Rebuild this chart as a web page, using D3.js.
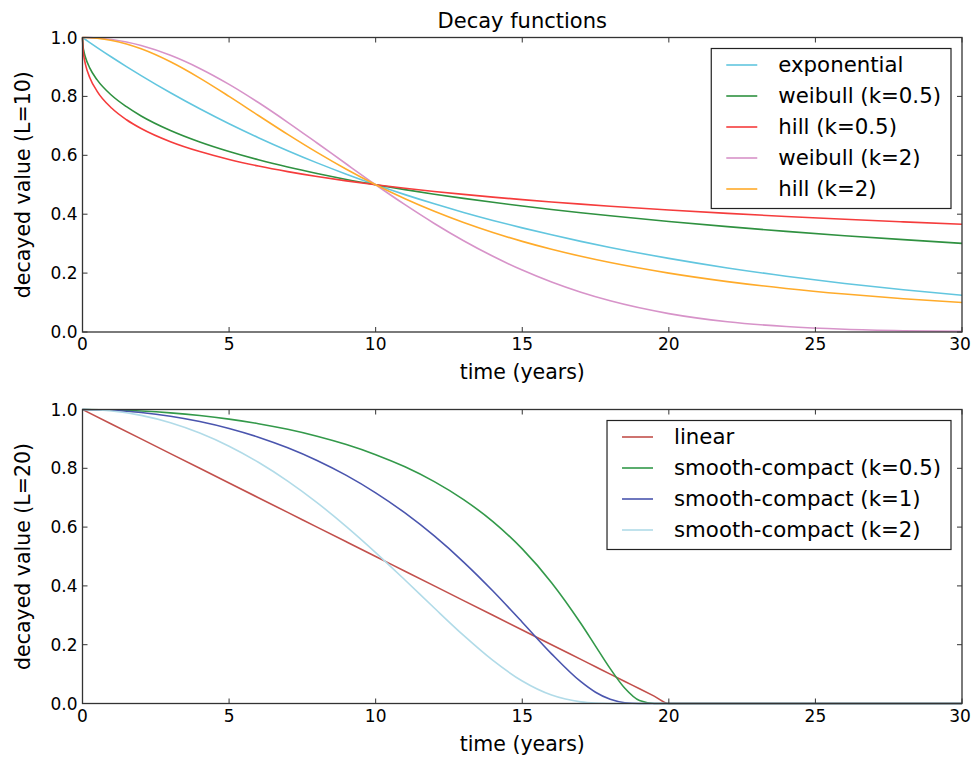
<!DOCTYPE html>
<html lang="en">
<head>
  <meta charset="UTF-8">
  <title>Decay functions</title>
  <script src="https://d3js.org/d3.v7.min.js"></script>
  <style>
    body { margin: 0; background: #fff; }
    svg { font-family: "DejaVu Sans", sans-serif; }
    .series { fill: none; stroke-width: 1.6; }
    .frame { fill: none; stroke: #333; stroke-width: 1.3; }
    .tick-mark { stroke: #333; stroke-width: 1; }
    .tick-label { font-size: 17px; fill: #000; }
    .axis-label { font-size: 20.5px; fill: #000; }
    .legend-text { font-size: 21.3px; fill: #000; }
  </style>
</head>
<body>
  <svg width="971" height="757"></svg>

  <script>
    // top panel: L = 10
    const topTimes = [0, 0.02, 0.05, 0.1, 0.25, 0.5, 1, 1.5, 2, 3, 4, 5, 6, 7, 8, 9, 10, 11, 12, 13, 14, 15, 16, 17, 18, 20, 22, 24, 26, 28, 30];
    const exponential = [1, 0.9986, 0.9965, 0.9931, 0.9828, 0.9659, 0.9330, 0.9013, 0.8706, 0.8123, 0.7579, 0.7071, 0.6598, 0.6156, 0.5743, 0.5359, 0.5, 0.4665, 0.4353, 0.4061, 0.3789, 0.3536, 0.3299, 0.3078, 0.2872, 0.25, 0.2176, 0.1895, 0.1649, 0.1436, 0.125];
    const weibullHalf = [1, 0.9695, 0.952, 0.933, 0.896, 0.856, 0.803, 0.765, 0.7334, 0.684, 0.645, 0.6126, 0.5846, 0.560, 0.538, 0.518, 0.5, 0.4834, 0.468, 0.4537, 0.4404, 0.4279, 0.4162, 0.4051, 0.3946, 0.3753, 0.3577, 0.3417, 0.327, 0.3136, 0.301];
    const hillHalf = [1, 0.957, 0.934, 0.909, 0.8635, 0.8173, 0.7597, 0.7208, 0.691, 0.6461, 0.6126, 0.5858, 0.5635, 0.5445, 0.5279, 0.5132, 0.5, 0.4881, 0.4772, 0.4672, 0.458, 0.4495, 0.4415, 0.4341, 0.4271, 0.4142, 0.4027, 0.3923, 0.3828, 0.3741, 0.366];
    const weibullTwo = [1, 1, 1, 0.9999, 0.9996, 0.9983, 0.9931, 0.9845, 0.9727, 0.9395, 0.895, 0.8409, 0.7792, 0.7121, 0.6417, 0.5704, 0.5, 0.4323, 0.3686, 0.3099, 0.2571, 0.2102, 0.1696, 0.1349, 0.1058, 0.0625, 0.0349, 0.0185, 0.0092, 0.0044, 0.002];
    const hillTwo = [1, 1, 1, 0.9999, 0.9994, 0.9975, 0.9901, 0.978, 0.9615, 0.9174, 0.8621, 0.8, 0.7353, 0.6711, 0.6098, 0.5525, 0.5, 0.4525, 0.4098, 0.3717, 0.3378, 0.3077, 0.2809, 0.2571, 0.2358, 0.2, 0.1712, 0.1479, 0.1289, 0.1131, 0.1];

    // bottom panel: L = 20
    const bottomTimes = [0, 1, 2, 3, 4, 5, 6, 7, 8, 9, 10, 11, 12, 13, 14, 15, 16, 17, 17.5, 18, 18.5, 19, 19.5, 20, 25, 30];
    const linear = [1, 0.95, 0.9, 0.85, 0.8, 0.75, 0.7, 0.65, 0.6, 0.55, 0.5, 0.45, 0.4, 0.35, 0.3, 0.25, 0.2, 0.15, 0.125, 0.1, 0.075, 0.05, 0.025, 0, 0, 0];
    const compactHalf = [1, 0.9988, 0.995, 0.9886, 0.9794, 0.9672, 0.9518, 0.9326, 0.9092, 0.8808, 0.8465, 0.8051, 0.7548, 0.6936, 0.6186, 0.5258, 0.4111, 0.2721, 0.1953, 0.1186, 0.0517, 0.0098, 0.0001, 0, 0, 0];
    const compactOne = [1, 0.9975, 0.99, 0.9773, 0.9592, 0.9355, 0.9058, 0.8697, 0.8266, 0.7758, 0.7165, 0.6481, 0.5698, 0.4811, 0.3826, 0.2765, 0.169, 0.074, 0.0381, 0.0141, 0.0027, 0.0001, 0, 0, 0, 0];
    const compactTwo = [1, 0.995, 0.98, 0.955, 0.92, 0.8752, 0.8205, 0.7564, 0.6832, 0.6018, 0.5134, 0.4201, 0.3247, 0.2315, 0.1464, 0.0764, 0.0286, 0.0055, 0.0015, 0.0002, 0, 0, 0, 0, 0, 0];

    const xTicks = [0, 5, 10, 15, 20, 25, 30];
    const yTicks = [0, 0.2, 0.4, 0.6, 0.8, 1.0];

    const svg = d3.select('svg');
    const left = 82.5, right = 962;

    // title
    svg.append('text')
      .attr('x', (left + right) / 2)
      .attr('y', 28)
      .attr('text-anchor', 'middle')
      .style('font-size', '21px')
      .text('Decay functions');

    function drawPanel(top, bottom, times, series, yLabel) {
      const x = d3.scaleLinear().domain([0, 30]).range([left, right]);
      const y = d3.scaleLinear().domain([0, 1]).range([bottom, top]);
      const g = svg.append('g');

      const line = d3.line()
        .x((d, i) => x(times[i]))
        .y(d => y(d))
        .curve(d3.curveMonotoneX);

      series.forEach(s => {
        g.append('path')
          .attr('class', 'series')
          .attr('stroke', s.color)
          .attr('d', line(s.values));
      });

      // ticks point inward on all four sides
      xTicks.forEach(t => {
        g.append('line').attr('class', 'tick-mark')
          .attr('x1', x(t)).attr('x2', x(t)).attr('y1', bottom).attr('y2', bottom - 5);
        g.append('line').attr('class', 'tick-mark')
          .attr('x1', x(t)).attr('x2', x(t)).attr('y1', top).attr('y2', top + 5);
        g.append('text').attr('class', 'tick-label')
          .attr('x', x(t) - (t === 30 ? 2 : 0)).attr('y', bottom + 18)
          .attr('text-anchor', 'middle')
          .text(t);
      });
      yTicks.forEach(t => {
        g.append('line').attr('class', 'tick-mark')
          .attr('x1', left).attr('x2', left + 5).attr('y1', y(t)).attr('y2', y(t));
        g.append('line').attr('class', 'tick-mark')
          .attr('x1', right).attr('x2', right - 5).attr('y1', y(t)).attr('y2', y(t));
        g.append('text').attr('class', 'tick-label')
          .attr('x', left - 5).attr('y', y(t) + 6)
          .attr('text-anchor', 'end')
          .text(d3.format('.1f')(t));
      });

      g.append('rect').attr('class', 'frame')
        .attr('x', left).attr('y', top)
        .attr('width', right - left).attr('height', bottom - top);

      g.append('text').attr('class', 'axis-label')
        .attr('x', (left + right) / 2).attr('y', bottom + 47)
        .attr('text-anchor', 'middle')
        .text('time (years)');

      g.append('text').attr('class', 'axis-label')
        .attr('transform', `translate(30,${(top + bottom) / 2}) rotate(-90)`)
        .attr('text-anchor', 'middle')
        .text(yLabel);

      // legend, upper right
      const lg = g.append('g');
      const box = lg.append('rect')
        .attr('fill', '#fff').attr('stroke', '#222').attr('stroke-width', 1.2);
      let maxW = 0;
      series.forEach((s, i) => {
        const cy = 16.5 + i * 31;
        lg.append('line')
          .attr('x1', 15).attr('x2', 46).attr('y1', cy).attr('y2', cy)
          .attr('stroke', s.color).attr('stroke-width', 1.6);
        const t = lg.append('text').attr('class', 'legend-text')
          .attr('x', 67).attr('y', cy + 7)
          .text(s.name);
        maxW = Math.max(maxW, t.node().getComputedTextLength());
      });
      const w = 67 + maxW + 10;
      const h = 33 + (series.length - 1) * 31 + 3;
      box.attr('width', w).attr('height', h);
      lg.attr('transform', `translate(${right - 11 - w},${top + 11})`);
    }

    drawPanel(37.5, 332, topTimes, [
      { name: 'exponential', color: '#62c6df', values: exponential },
      { name: 'weibull (k=0.5)', color: '#2f9140', values: weibullHalf },
      { name: 'hill (k=0.5)', color: '#f53c3c', values: hillHalf },
      { name: 'weibull (k=2)', color: '#d793c9', values: weibullTwo },
      { name: 'hill (k=2)', color: '#ffab2a', values: hillTwo }
    ], 'decayed value (L=10)');

    drawPanel(409.5, 703.5, bottomTimes, [
      { name: 'linear', color: '#c2504c', values: linear },
      { name: 'smooth-compact (k=0.5)', color: '#33994a', values: compactHalf },
      { name: 'smooth-compact (k=1)', color: '#4a55ae', values: compactOne },
      { name: 'smooth-compact (k=2)', color: '#b1dbe8', values: compactTwo }
    ], 'decayed value (L=20)');
  </script>
</body>
</html>
